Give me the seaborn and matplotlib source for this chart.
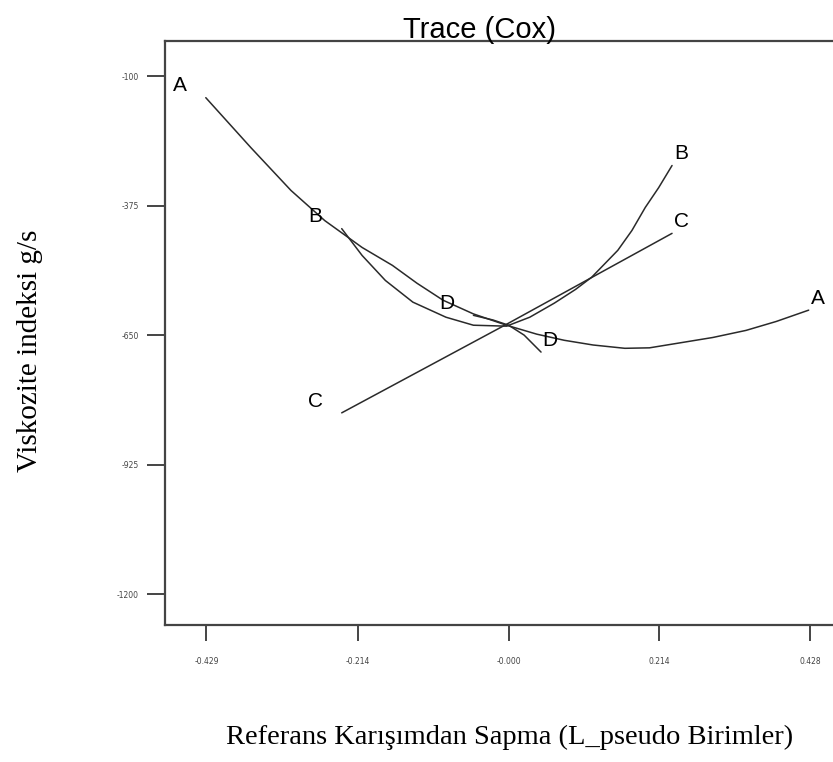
import numpy as np
import pandas as pd
import seaborn as sns
from matplotlib import pyplot as plt

# values
a_x = [-0.430, -0.366, -0.309, -0.261, -0.208, -0.165, -0.130, -0.093, -0.050, -0.003, 0.040, 0.079,
       0.120, 0.165, 0.200, 0.241, 0.290, 0.337, 0.380, 0.426]
a_y = [-146, -252, -343, -407, -464, -502, -540, -576, -605, -629, -648, -661,
       -671, -678, -677, -667, -655, -640, -621, -597]
b_x = [-0.237, -0.208, -0.175, -0.136, -0.089, -0.050, -0.003, 0.030, 0.065, 0.095, 0.118, 0.155, 0.175,
       0.194, 0.213, 0.232]
b_y = [-424, -481, -534, -580, -612, -629, -631, -612, -582, -553, -527, -470, -428,
       -379, -337, -290]
c_x = [-0.237, -0.003, 0.232]
c_y = [-815, -627, -434]
d_x = [-0.050, -0.022, 0.000, 0.022, 0.046]
d_y = [-608, -618, -629, -650, -686]

x_ticks = [-0.429, -0.214, 0.0, 0.214, 0.428]
x_tick_labels = ['-0.429', '-0.214', '-0.000', '0.214', '0.428']
y_ticks = [-100, -375, -650, -925, -1200]

curves = {'A': (a_x, a_y), 'B': (b_x, b_y), 'C': (c_x, c_y), 'D': (d_x, d_y)}
df = pd.concat([pd.DataFrame({'x': xs, 'y': ys, 'comp': k}) for k, (xs, ys) in curves.items()])

sns.set_style('white')
plt.rcParams['axes.unicode_minus'] = False
fig = plt.figure(figsize=(8.33, 7.62), dpi=100)
ax = fig.add_axes([0.198, 0.180, 0.81, 0.766])

sns.lineplot(data=df, x='x', y='y', hue='comp', palette=['#2a2a2a'] * 4,
             estimator=None, sort=False, legend=False, linewidth=1.1, ax=ax)

# component letters at both ends of each trace
for k, (xs, ys) in curves.items():
    ax.annotate(k, (xs[0], ys[0]), xytext=(-19, 8.5), textcoords='offset points',
                ha='center', va='center', fontsize=15, family='Liberation Sans', color='black')
    ax.annotate(k, (xs[-1], ys[-1]), xytext=(6.5, 8.5), textcoords='offset points',
                ha='center', va='center', fontsize=15, family='Liberation Sans', color='black')

ax.set_xlim(-0.488, 0.47)
ax.set_ylim(-1265, -26)
ax.set_xticks(x_ticks)
ax.set_xticklabels(x_tick_labels)
ax.set_yticks(y_ticks)
ax.tick_params(axis='both', direction='out', length=13, width=1.4, color='#444444',
               labelsize=5.5, labelcolor='#444444', pad=6, left=True, bottom=True)
ax.tick_params(axis='x', length=11.5, pad=12)
for s in ['left', 'bottom', 'top']:
    ax.spines[s].set_color('#444444')
    ax.spines[s].set_linewidth(1.6)
ax.spines['right'].set_visible(False)

ax.set_title('Trace (Cox)', fontsize=21, family='Liberation Sans', color='black',
             x=0.466, pad=2)
fig.text(0.612, 0.032, 'Referans Karışımdan Sapma (L_pseudo Birimler)',
         ha='center', va='center', fontsize=20.5, family='Liberation Serif', color='black')
fig.text(0.036, 0.54, 'Viskozite indeksi g/s', rotation=90,
         ha='center', va='center', fontsize=21, family='Liberation Serif', color='black')
ax.set_xlabel('')
ax.set_ylabel('')

fig.savefig('out.png', dpi=100)
